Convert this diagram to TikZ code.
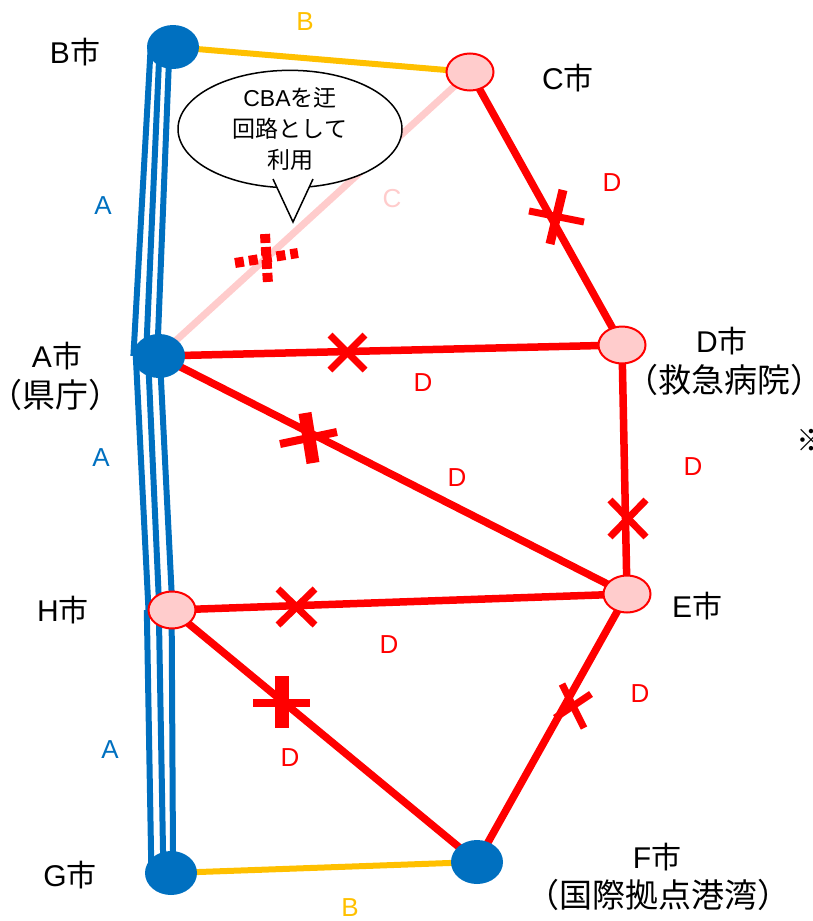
\documentclass[tikz,border=0pt]{standalone}
\usepackage{fontspec}
\setmainfont{Liberation Sans}
\newfontfamily\jp{Noto Sans CJK JP}
\usetikzlibrary{shapes.geometric,backgrounds}
\definecolor{cblue}{HTML}{0070C0}
\definecolor{cpink}{HTML}{FFCCCC}
\definecolor{cred}{HTML}{FF0000}
\definecolor{cyel}{HTML}{FFC000}
\tikzset{
  bnode/.style={ellipse, fill=cblue, minimum width=52pt, minimum height=44pt, inner sep=0pt},
  pnode/.style={ellipse, fill=cpink, draw=cred, line width=2pt, minimum width=47pt, minimum height=37pt, inner sep=0pt},
  redge/.style={cred, line width=7.5pt},
  yedge/.style={cyel, line width=6pt},
  pedge/.style={cpink, line width=7pt},
  bline/.style={cblue, line width=6pt},
  city/.style={font=\fontsize{30}{39}\selectfont, align=center, inner sep=0pt},
  sub/.style={font=\fontsize{33}{39}\selectfont\jp, inner sep=0pt},
  elbl/.style={font=\fontsize{26}{30}\selectfont, inner sep=0pt},
  xbar/.style={cred, line width=#1},
  xbar/.default=7pt,
  callout/.style={ellipse, draw=black, line width=1.5pt, fill=white, minimum width=224pt, minimum height=102pt, inner sep=0pt, align=center, font=\fontsize{23}{31}\selectfont}
}
\begin{document}
\begin{tikzpicture}[x=1pt,y=-1pt]
\useasboundingbox (0,0) rectangle (812,921);
% nodes
\node[bnode] (B) at (173,47) {};
\node[pnode] (C) at (470,72) {};
\node[bnode] (A) at (159,356) {};
\node[pnode] (D) at (622,345) {};
\node[pnode] (E) at (627,594) {};
\node[pnode] (H) at (172,610) {};
\node[bnode] (G) at (171,873) {};
\node[bnode] (F) at (477,862) {};
\begin{scope}[on background layer]
  % triple blue lines
  \draw[bline] ([xshift=-22.3pt]B.center) -- ([xshift=-25.6pt]A.center);
  \draw[bline] ([xshift=-13.4pt]B.center) -- ([xshift=-13pt]A.center);
  \draw[bline] ([xshift=-3.5pt]B.center) -- ([xshift=-1.8pt]A.center);
  \draw[bline] ([xshift=-23.2pt]A.center) -- ([xshift=-23.5pt]H.center);
  \draw[bline] ([xshift=-11pt]A.center) -- ([xshift=-12.7pt]H.center);
  \draw[bline] ([xshift=0.8pt]A.center) -- ([xshift=0.5pt]H.center);
  \draw[bline] ([xshift=-25.2pt]H.center) -- ([xshift=-19.6pt]G.center);
  \draw[bline] ([xshift=-13.2pt]H.center) -- ([xshift=-7.6pt]G.center);
  \draw[bline] ([xshift=-0.4pt]H.center) -- ([xshift=2.1pt]G.center);
  % edges
  \draw[yedge] (B.center) -- (C.center);
  \draw[yedge] (G.center) -- (F.center);
  \draw[pedge] (C.center) -- (A.center);
  \draw[redge] (C.center) -- (D.center);
  \draw[redge] (A.center) -- (D.center);
  \draw[redge] (A.center) -- (E.center);
  \draw[redge] (D.center) -- (E.center);
  \draw[redge] (H.center) -- (E.center);
  \draw[redge] (H.center) -- (F.center);
  \draw[redge] (E.center) -- (F.center);
\end{scope}
% cut marks
\draw[xbar=7pt] (529,211) -- (584,222);
\draw[xbar=9pt] (563,190) -- (550,244);
\draw[xbar=7pt] (330,335) -- (365,370);
\draw[xbar=7pt] (330,370) -- (365,335);
\draw[xbar=8pt] (280,444) -- (337,432);
\draw[xbar=13pt] (305,413) -- (313,463);
\draw[xbar=7pt] (610,500) -- (646,537);
\draw[xbar=7pt] (610,537) -- (646,500);
\draw[xbar=7pt] (278,589) -- (315,625);
\draw[xbar=7pt] (278,625) -- (315,589);
\draw[xbar=14pt] (282,676) -- (282,728);
\draw[xbar=8pt] (253,703) -- (310,703);
\draw[xbar=7pt] (562,684) -- (584,728);
\draw[xbar=7pt] (555,718) -- (591,694);
% dashed mark
\draw[cred, line width=10pt, dash pattern=on 9pt off 4pt] (265,234) -- (268,284);
\draw[cred, line width=10pt, dash pattern=on 9pt off 5pt] (235,263) -- (298,253);
% callout
\node[callout] (call) at (290,129) {CBA{\jp を迂}\\{\jp 回路として}\\{\jp 利用}};
\coordinate (tip) at (293,222);
\fill[white] (271,175) -- (tip) -- (315,175) -- cycle;
\draw[black, line width=1.5pt, line join=miter] (273,179) -- (tip) -- (313,179);
% city labels
\node[city] (lB) at (75,52) {B{\jp 市}};
\node[city] (lC) at (568,78) {C{\jp 市}};
\node[city] (lA) at (57,356) {A{\jp 市}};
\node[sub] (lA2) at (56,395) {（県庁）};
\node[city] (lD) at (722,341) {D{\jp 市}};
\node[sub] (lD2) at (724,380) {（救急病院）};
\node[city] (lH) at (63,610) {H{\jp 市}};
\node[city] (lE) at (697,606) {E{\jp 市}};
\node[city] (lG) at (70,875) {G{\jp 市}};
\node[city] (lF) at (657,857) {F{\jp 市}};
\node[sub] (lF2) at (658,895) {（国際拠点港湾）};
\node[city] (note) at (811,440) {\jp ※};
% edge labels
\node[elbl, text=cyel] (eBC) at (305,22) {B};
\node[elbl, text=cyel] (eGF) at (350,908) {B};
\node[elbl, text=cpink] (eCA) at (392,199) {C};
\node[elbl, text=cblue] (eAB) at (103,206) {A};
\node[elbl, text=cblue] (eAH) at (101,458) {A};
\node[elbl, text=cblue] (eHG) at (110,750) {A};
\node[elbl, text=cred] (eCD) at (612,183) {D};
\node[elbl, text=cred] (eAD) at (423,383) {D};
\node[elbl, text=cred] (eAE) at (457,478) {D};
\node[elbl, text=cred] (eDE) at (693,467) {D};
\node[elbl, text=cred] (eHE) at (389,645) {D};
\node[elbl, text=cred] (eHF) at (290,758) {D};
\node[elbl, text=cred] (eEF) at (640,694) {D};
\end{tikzpicture}
\end{document}
